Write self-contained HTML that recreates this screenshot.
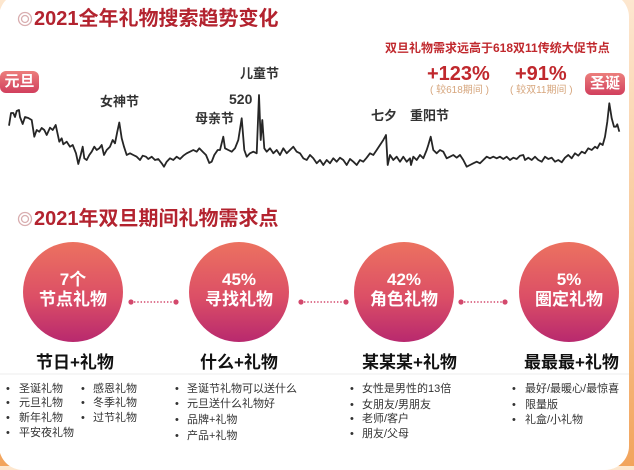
<!DOCTYPE html>
<html><head><meta charset="utf-8">
<style>
html,body{margin:0;padding:0;}
body{width:634px;height:466px;overflow:hidden;position:relative;background:linear-gradient(to bottom,#fde7cf 0%,#f8c796 55%,#f2a45c 100%);font-family:"Liberation Sans","Noto Sans CJK SC",sans-serif;}
.panel{position:absolute;left:-1px;top:-7px;width:630px;height:477px;background:#fff;border-radius:24px;}
.t{position:absolute;line-height:1;white-space:nowrap;}
.title{font-size:20px;font-weight:700;color:#b3232f;}
.lbl{font-size:13px;font-weight:700;color:#333;}
.badge{position:absolute;border-radius:6px;background:linear-gradient(to bottom,#ec7e7c,#d13f5d);color:#fff;font-weight:700;font-size:15px;line-height:21px;text-align:center;}
.red{color:#c0282d;font-weight:700;}
.tan{color:#d6a57c;font-size:10px;}
.circ{position:absolute;width:100px;height:100px;border-radius:50%;background:linear-gradient(to bottom,#ec7260 0%,#dc4f66 55%,#b8296e 100%);color:#fff;font-weight:700;font-size:17px;text-align:center;}
.circ div{position:absolute;left:0;width:100%;line-height:1;}
.hd{font-size:17px;font-weight:700;color:#111;}
.li{font-size:11px;color:#333;}
</style></head><body>
<div class="panel"></div>

<svg width="634" height="466" style="position:absolute;left:0;top:0">
  <g fill="none" stroke="#d9aeb0" stroke-width="1.3">
    <circle cx="25" cy="19" r="6.5"/><circle cx="25" cy="19" r="3.5"/>
    <circle cx="25" cy="219" r="6.5"/><circle cx="25" cy="219" r="3.5"/>
  </g>
  <polyline fill="none" stroke="#262626" stroke-width="1.8" stroke-linejoin="round" points="9,125.7 11,113 13.3,113 15,117 16.7,111 19,110 20,117 22.7,124 25,117 28.3,118 31.7,120 34.3,136.7 36.7,130 39.3,131.7 41.7,128 44.3,130 46.7,135 50,127.7 52.7,130 55.7,125 59.3,141.7 61.7,138.3 63.3,144.3 66.7,141.7 70,146.7 72.7,145 76,153.3 78.3,164 80.7,155 82.7,146.7 84.3,158.3 86.7,160 89.3,155 91.7,151.7 94.3,146.7 96.7,150 99.3,148.3 101.7,145 104,155 106.7,150 110,146.7 112.7,140 115,143.3 117.3,131.7 119.3,122.5 121.7,138.3 124,146.7 126.7,155 130,153.3 133.3,155 136.7,156.7 140,160 142.7,155.7 146,156.7 148.3,159 151.7,156.7 155,160 158.3,159 161.7,163.3 164,166.7 166.7,161.7 170,158.3 173.3,160 176.7,156.7 180,159 183.3,155.7 186.7,153.3 190,151.7 193.3,150 196.7,151.7 199.3,148.3 202.7,151.7 206,155 209.3,163 211.7,161.7 214.3,155 217.7,150 220,150 223.3,136.7 225,148.3 228.3,150 231.7,151.7 235,148.3 238.3,140 241.7,118.3 244.3,150 246.7,156.7 250,153.3 253.3,151.7 256.7,153.3 259,95 260.7,140 262.3,120 264.3,148.3 266.7,151.7 270,148.3 273.3,153.3 276.7,150 280,155 283.3,148.3 286.7,153.3 290,150 293.3,146.7 296.7,151.7 300,153.3 303.3,158.3 306.7,160 310,155 313.3,158.3 316.7,163.3 320,160 323.3,165 326.7,160 330,163.3 333.3,158.3 336.7,161.7 340,157.7 343.3,160 346.7,165 350,159 353.3,161.7 356.7,165 360,160 363.3,161.7 366.7,157.7 370,153.3 373.3,155 376.7,150 380,145 383.3,140 386,135 387.7,165 390,155 393.3,160 396.7,156.7 400,161.7 403.3,156.7 406.7,161.7 410,158.3 411,165 413.3,156.7 416.7,160 420,155 423.3,158.3 426.7,150 428.3,145 430.7,136.7 433.3,150 436.7,153.3 440,150 443.3,151.7 446.7,158.3 450,156.7 453.3,155 456.7,157.7 460,155 463.3,160 466.7,166.7 470,165 473.3,163.3 476.7,161.7 480,163.3 483.3,160 486.7,156.7 490,158.3 493.3,156.7 496.7,158.3 500,156.7 503.3,159 506.7,156.7 510,160 513.3,157.7 516.7,159 520,155.7 523.3,155 525,160 528.3,157.7 531.7,160 535,156.7 538.3,160 541.7,161.7 545,156.7 548.3,159 551.7,157.7 555,161.7 558.3,160 561.7,162.3 565,157.7 568.3,155 571.7,158.3 575,153.3 578.3,155.7 581.7,151.7 585,153.3 588.3,148.3 591.7,150 595,146.7 597.3,148.3 600,143.3 602.7,145 605,136.7 607.3,121.7 609.3,103.3 611.7,118.3 614,126.7 616,126.7 617.3,124.3 619.3,131.7"/>
  <!-- connectors -->
  <g fill="#d3486c">
    <circle cx="131" cy="302" r="2.6"/><circle cx="176" cy="302" r="2.6"/>
    <circle cx="301" cy="302" r="2.6"/><circle cx="346" cy="302" r="2.6"/>
    <circle cx="461" cy="302" r="2.6"/><circle cx="505" cy="302" r="2.6"/>
  </g>
  <g stroke="#d3486c" stroke-width="1.6" stroke-dasharray="1.4 1.9">
    <line x1="134" y1="302" x2="173" y2="302"/>
    <line x1="304" y1="302" x2="343" y2="302"/>
    <line x1="464" y1="302" x2="502" y2="302"/>
  </g>
  <line x1="0" y1="374" x2="629" y2="374" stroke="#ececec" stroke-width="1"/>
</svg>

<div class="t title" style="left:34px;top:9px;">2021全年礼物搜索趋势变化</div>
<div class="t title" style="left:34px;top:209px;">2021年双旦期间礼物需求点</div>

<div class="badge" style="left:0;top:71px;width:39px;height:22px;">元旦</div>
<div class="badge" style="left:585px;top:73px;width:40px;height:22px;">圣诞</div>

<div class="t lbl" style="left:100px;top:95px;">女神节</div>
<div class="t lbl" style="left:195px;top:112px;">母亲节</div>
<div class="t lbl" style="left:229px;top:92px;font-size:14px;">520</div>
<div class="t lbl" style="left:240px;top:67px;">儿童节</div>
<div class="t lbl" style="left:371px;top:109px;">七夕</div>
<div class="t lbl" style="left:410px;top:109px;">重阳节</div>

<div class="t red" style="left:385px;top:42px;font-size:12px;">双旦礼物需求远高于618双11传统大促节点</div>
<div class="t red" style="left:427px;top:64px;font-size:20px;">+123%</div>
<div class="t red" style="left:515px;top:64px;font-size:20px;">+91%</div>
<div class="t tan" style="left:430px;top:86px;">( 较618期间 )</div>
<div class="t tan" style="left:510px;top:86px;">( 较双11期间 )</div>

<div class="circ" style="left:23px;top:242px;"><div style="top:29px;">7个</div><div style="top:49px;">节点礼物</div></div>
<div class="circ" style="left:189px;top:242px;"><div style="top:29px;">45%</div><div style="top:49px;">寻找礼物</div></div>
<div class="circ" style="left:354px;top:242px;"><div style="top:29px;">42%</div><div style="top:49px;">角色礼物</div></div>
<div class="circ" style="left:519px;top:242px;"><div style="top:29px;">5%</div><div style="top:49px;">圈定礼物</div></div>

<div class="t hd" style="left:36px;top:354px;">节日+礼物</div>
<div class="t hd" style="left:200px;top:354px;">什么+礼物</div>
<div class="t hd" style="left:362px;top:354px;">某某某+礼物</div>
<div class="t hd" style="left:524px;top:354px;">最最最+礼物</div>

<div class="t li" style="left:6px;top:384px;">•</div><div class="t li" style="left:19px;top:384px;">圣诞礼物</div>
<div class="t li" style="left:6px;top:398px;">•</div><div class="t li" style="left:19px;top:398px;">元旦礼物</div>
<div class="t li" style="left:6px;top:413px;">•</div><div class="t li" style="left:19px;top:413px;">新年礼物</div>
<div class="t li" style="left:6px;top:428px;">•</div><div class="t li" style="left:19px;top:428px;">平安夜礼物</div>

<div class="t li" style="left:81px;top:384px;">•</div><div class="t li" style="left:93px;top:384px;">感恩礼物</div>
<div class="t li" style="left:81px;top:398px;">•</div><div class="t li" style="left:93px;top:398px;">冬季礼物</div>
<div class="t li" style="left:81px;top:413px;">•</div><div class="t li" style="left:93px;top:413px;">过节礼物</div>

<div class="t li" style="left:175px;top:384px;">•</div><div class="t li" style="left:187px;top:384px;">圣诞节礼物可以送什么</div>
<div class="t li" style="left:175px;top:399px;">•</div><div class="t li" style="left:187px;top:399px;">元旦送什么礼物好</div>
<div class="t li" style="left:175px;top:415px;">•</div><div class="t li" style="left:187px;top:415px;">品牌+礼物</div>
<div class="t li" style="left:175px;top:431px;">•</div><div class="t li" style="left:187px;top:431px;">产品+礼物</div>

<div class="t li" style="left:350px;top:384px;">•</div><div class="t li" style="left:362px;top:384px;">女性是男性的13倍</div>
<div class="t li" style="left:350px;top:400px;">•</div><div class="t li" style="left:362px;top:400px;">女朋友/男朋友</div>
<div class="t li" style="left:350px;top:414px;">•</div><div class="t li" style="left:362px;top:414px;">老师/客户</div>
<div class="t li" style="left:350px;top:429px;">•</div><div class="t li" style="left:362px;top:429px;">朋友/父母</div>

<div class="t li" style="left:512px;top:384px;">•</div><div class="t li" style="left:525px;top:384px;">最好/最暖心/最惊喜</div>
<div class="t li" style="left:512px;top:400px;">•</div><div class="t li" style="left:525px;top:400px;">限量版</div>
<div class="t li" style="left:512px;top:415px;">•</div><div class="t li" style="left:525px;top:415px;">礼盒/小礼物</div>
</body></html>
